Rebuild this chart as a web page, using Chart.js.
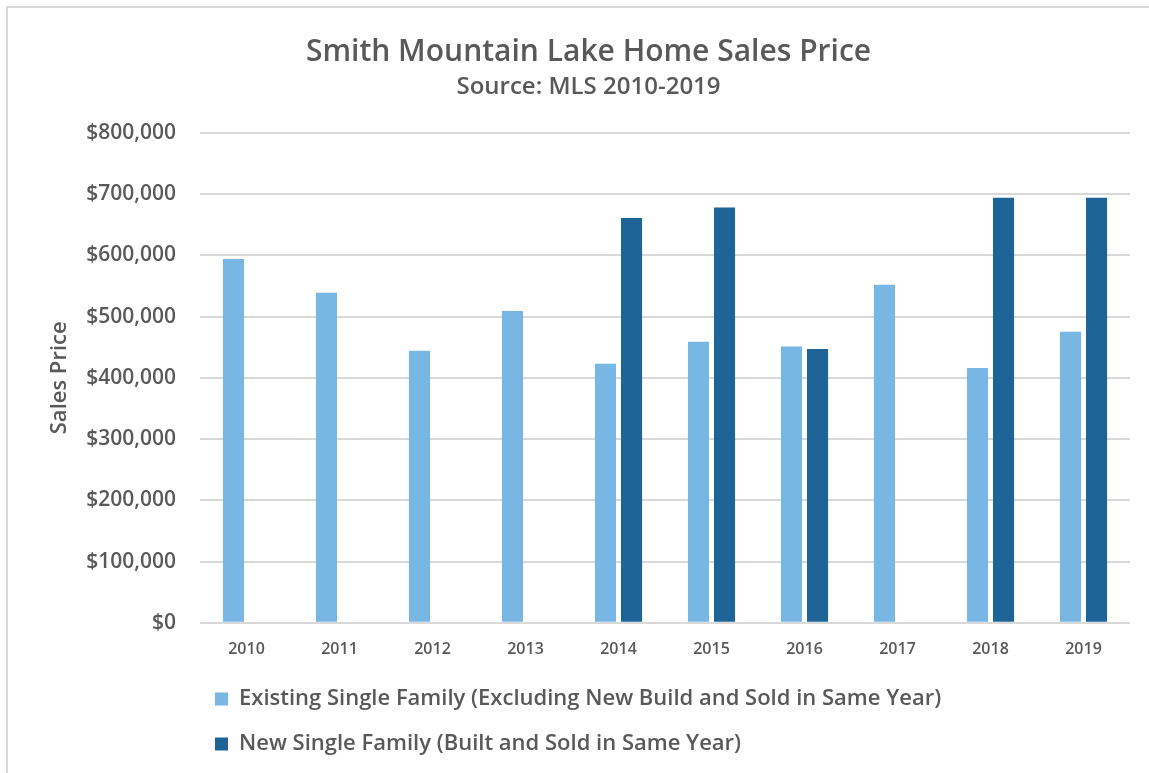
<!DOCTYPE html>
<html>
<head>
<meta charset="utf-8">
<script src="https://cdn.jsdelivr.net/npm/chart.js@4.4.0/dist/chart.umd.min.js"></script>
<style>
  html, body { margin: 0; padding: 0; background: #fff; }
  #frame {
    position: absolute; left: 6px; top: 6px; width: 1143px; height: 767px;
    border-left: 2px solid #d9d9d9; border-top: 2px solid #d9d9d9;
  }
  #wrap { position: absolute; left: 0; top: 0; width: 1149px; height: 773px; }
</style>
</head>
<body>
<div id="frame"></div>
<div id="wrap"><canvas id="chart-prices" width="1149" height="773"></canvas></div>
<script>
const years = ["2010", "2011", "2012", "2013", "2014", "2015", "2016", "2017", "2018", "2019"];
const existingPrices = [594000, 539000, 444000, 509000, 423000, 459000, 451000, 552000, 416000, 475000];
const newPrices = [null, null, null, null, 661000, 678000, 447000, null, 694000, 694000];

const textColor = "#595959";
const fontFamily = "'Open Sans', Roboto, sans-serif";

// move the legend a bit, like in the excel chart
const legendNudge = {
  id: "legendNudge",
  afterLayout: function (chart) {
    const legend = chart.legend;
    legend.left -= 8;
    legend.right -= 8;
    legend.top -= 3;
    legend.bottom -= 3;
  },
};

document.addEventListener("DOMContentLoaded", function () {
  const ctx = document.getElementById("chart-prices").getContext("2d");

  const myChart = new Chart(ctx, {
    type: "bar",
    data: {
      labels: years,
      datasets: [
        {
          label: "Existing Single Family (Excluding New Build and Sold in Same Year)",
          data: existingPrices,
          backgroundColor: "#78b6e4",
          borderWidth: 0,
          categoryPercentage: 0.56,
          barPercentage: 0.81,
        },
        {
          label: "New Single Family (Built and Sold in Same Year)",
          data: newPrices,
          backgroundColor: "#1f6496",
          borderWidth: 0,
          categoryPercentage: 0.56,
          barPercentage: 0.81,
        },
      ],
    },
    options: {
      responsive: false,
      animation: false,
      layout: {
        padding: { left: 47, right: 19, top: 34, bottom: 5 },
      },
      scales: {
        x: {
          grid: { display: false },
          border: { display: false },
          ticks: {
            color: textColor,
            font: { family: fontFamily, size: 16, weight: "600" },
            padding: 9,
          },
        },
        y: {
          min: 0,
          max: 800000,
          afterFit: function (scale) {
            scale.width = 153;
          },
          grid: { color: "#d9d9d9", lineWidth: 2, drawTicks: false },
          border: { display: false },
          ticks: {
            stepSize: 100000,
            color: textColor,
            padding: 24,
            font: { family: fontFamily, size: 21, weight: "600" },
            callback: function (value) {
              return "$" + value.toLocaleString("en-US");
            },
          },
          title: {
            display: true,
            text: "Sales Price",
            color: textColor,
            font: { family: fontFamily, size: 22, weight: "600" },
            padding: 0,
          },
        },
      },
      plugins: {
        title: {
          display: true,
          text: "Smith Mountain Lake Home Sales Price",
          color: textColor,
          font: { family: fontFamily, size: 30, weight: "600" },
          padding: { top: 0, bottom: 3 },
        },
        subtitle: {
          display: true,
          text: "Source: MLS 2010-2019",
          color: textColor,
          font: { family: fontFamily, size: 24, weight: "600" },
          padding: { top: 0, bottom: 31 },
        },
        legend: {
          position: "bottom",
          align: "start",
          fullSize: false,
          labels: {
            color: textColor,
            font: { family: fontFamily, size: 22, weight: "600" },
            boxWidth: 13,
            boxHeight: 13,
            padding: 23,
          },
        },
        tooltip: { enabled: false },
      },
    },
    plugins: [legendNudge],
  });
});
</script>
</body>
</html>
